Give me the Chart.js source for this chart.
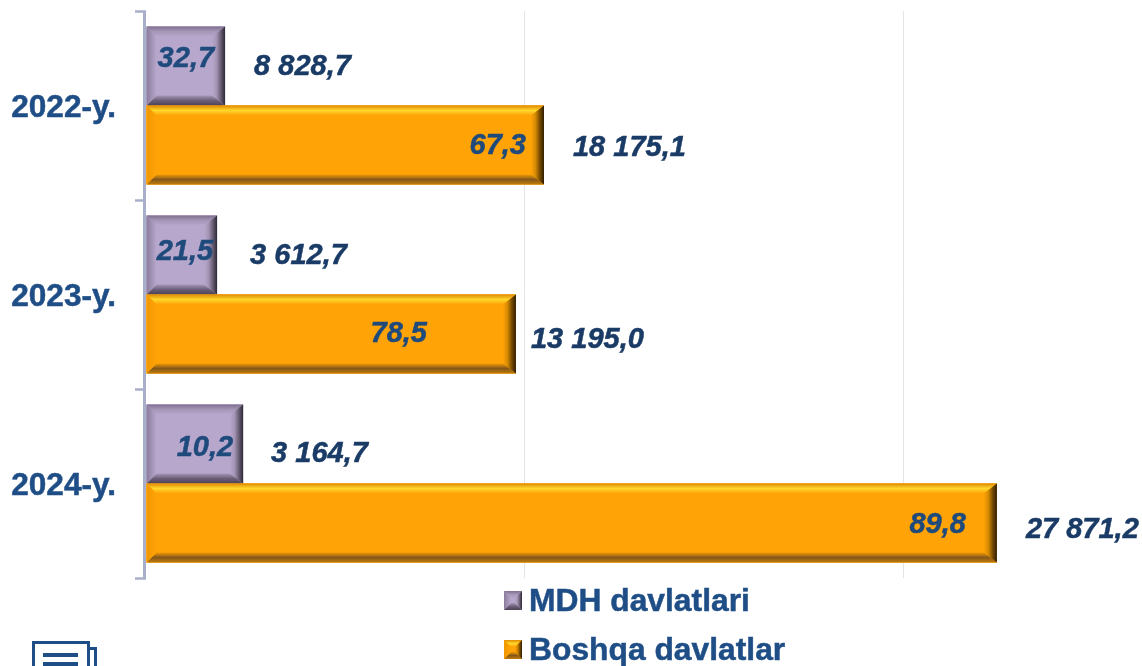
<!DOCTYPE html>
<html>
<head>
<meta charset="utf-8">
<title>Chart</title>
<script src="https://cdn.jsdelivr.net/npm/chart.js@4"></script>
<style>
  html, body { margin: 0; padding: 0; background: #fff; overflow: hidden; }
  canvas { display: block; }
</style>
</head>
<body>
<canvas id="grafico" width="1142" height="666"></canvas>
<script>
const categorias = ['2022-y.', '2023-y.', '2024-y.'];
const nombreMdh = 'MDH davlatlari';
const nombreBoshqa = 'Boshqa davlatlar';

// bar lengths as read against the gridlines (the printed labels do not follow them)
const barrasMdh = [2087, 1876, 2563];
const barrasBoshqa = [10505, 9765, 22460];

// printed labels
const porcentajesMdh = ['32,7', '21,5', '10,2'];
const porcentajesBoshqa = ['67,3', '78,5', '89,8'];
const montosMdh = ['8 828,7', '3 612,7', '3 164,7'];
const montosBoshqa = ['18 175,1', '13 195,0', '27 871,2'];

const ticksX = [0, 10000, 20000];

// label placement relative to bar end / bar centre: [dx, dy]
const ajustePorcentaje = [[[-11, -7], [-18, 1]], [[-4, -3], [-89, 0]], [[-10, 4], [-31, 2]]];
const ajusteMonto = [[[29, 1], [29, 3]], [[33, 1], [15, 6]], [[28, 10], [29, 7]]];

const azulEje = '#1f4e86';
const azulDato = '#1a3b66';
const azulInterno = '#1f4a7c';

const estiloMdh = {
  cara: '#b8a7cc',
  arriba: ['#7f7090', '#a595b6', '#b8a7cc'],
  izquierda: ['#8a7b9c', '#b8a7cc'],
  abajo: ['#4b4356', '#6b5f78', '#a596b6'],
  derecha: ['#2c2833', '#6a5f76', '#a596b6', '#b8a7cc']
};
const estiloBoshqa = {
  cara: '#ffa307',
  arriba: ['#e08a00', '#ffd62c', '#ffa307'],
  izquierda: ['#f09800', '#ffa307'],
  abajo: ['#c07c08', '#85571a', '#f09a05'],
  derecha: ['#2e1c00', '#7a4e00', '#d88c04', '#ffa307']
};

function pintarCara(ctx, puntos, x0, y0, x1, y1, colores) {
  const g = ctx.createLinearGradient(x0, y0, x1, y1);
  colores.forEach((c, i) => g.addColorStop(i / (colores.length - 1), c));
  ctx.fillStyle = g;
  ctx.beginPath();
  puntos.forEach((p, i) => i ? ctx.lineTo(p[0], p[1]) : ctx.moveTo(p[0], p[1]));
  ctx.closePath();
  ctx.fill();
}

// e = bevel width, ed = wider bevel on the right side
function bisel(ctx, l, t, r, b, e, ed, estilo) {
  ctx.fillStyle = estilo.cara;
  ctx.fillRect(l, t, r - l, b - t);
  pintarCara(ctx, [[l, t], [r, t], [r - ed, t + e], [l + e, t + e]], 0, t, 0, t + e, estilo.arriba);
  pintarCara(ctx, [[l, b], [r, b], [r - ed, b - e], [l + e, b - e]], 0, b, 0, b - e, estilo.abajo);
  pintarCara(ctx, [[l, t], [l + e, t + e], [l + e, b - e], [l, b]], l, 0, l + e, 0, estilo.izquierda);
  pintarCara(ctx, [[r, t], [r - ed, t + e], [r - ed, b - e], [r, b]], r, 0, r - ed, 0, estilo.derecha);
}

function texto(ctx, s, x, y, color) {
  ctx.fillStyle = color;
  ctx.strokeStyle = color;
  ctx.lineWidth = 0.5;
  ctx.fillText(s, x, y);
  ctx.strokeText(s, x, y);
}

const dibujoBarras = {
  id: 'dibujoBarras',
  afterDatasetsDraw(chart) {
    const ctx = chart.ctx;
    const estilos = [estiloMdh, estiloBoshqa];
    const porcentajes = [porcentajesMdh, porcentajesBoshqa];
    const montos = [montosMdh, montosBoshqa];
    ctx.save();
    ctx.font = 'italic bold 29px "Liberation Sans"';
    ctx.textBaseline = 'middle';
    chart.data.datasets.forEach((ds, d) => {
      chart.getDatasetMeta(d).data.forEach((barra, i) => {
        const t = barra.y - barra.height / 2;
        const b = barra.y + barra.height / 2;
        bisel(ctx, barra.base, t, barra.x, b, 10, 13, estilos[d]);
      });
    });
    // labels after all bars, a tall label may lie across the next bar
    chart.data.datasets.forEach((ds, d) => {
      chart.getDatasetMeta(d).data.forEach((barra, i) => {
        const ap = ajustePorcentaje[i][d];
        const am = ajusteMonto[i][d];
        ctx.textAlign = 'right';
        texto(ctx, porcentajes[d][i], barra.x + ap[0], barra.y + ap[1], azulInterno);
        ctx.textAlign = 'left';
        texto(ctx, montos[d][i], barra.x + am[0], barra.y + am[1], azulDato);
      });
    });
    ctx.restore();
  },
  afterDraw(chart) {
    const ctx = chart.ctx;
    const eje = chart.scales.y;
    ctx.save();
    // axis line sits just left of the bars
    ctx.fillStyle = '#a9afcb';
    ctx.fillRect(eje.right - 3, eje.top, 3, eje.bottom - eje.top + 1);

    // legend
    const filas = [[nombreMdh, estiloMdh, 601], [nombreBoshqa, estiloBoshqa, 650]];
    ctx.font = 'bold 31.8px "Liberation Sans"';
    ctx.textBaseline = 'middle';
    ctx.textAlign = 'left';
    filas.forEach(f => {
      bisel(ctx, 504, f[2] - 10, 522, f[2] + 9, 7, 7, f[1]);
      texto(ctx, f[0], 529, f[2] + 1, azulEje);
    });

    // document icon, cut by the bottom edge
    ctx.strokeStyle = azulEje;
    ctx.lineWidth = 3;
    ctx.strokeRect(33.5, 642.5, 55, 40);
    ctx.beginPath();
    ctx.moveTo(89, 648.5);
    ctx.lineTo(95.5, 648.5);
    ctx.lineTo(95.5, 680);
    ctx.stroke();
    ctx.fillStyle = azulEje;
    ctx.fillRect(43, 653, 35, 4);
    ctx.fillRect(43, 662, 35, 4);
    ctx.restore();
  }
};

new Chart(document.getElementById('grafico'), {
  type: 'bar',
  data: {
    labels: categorias,
    datasets: [
      { label: nombreMdh, data: barrasMdh, backgroundColor: estiloMdh.cara },
      { label: nombreBoshqa, data: barrasBoshqa, backgroundColor: estiloBoshqa.cara }
    ]
  },
  options: {
    indexAxis: 'y',
    responsive: false,
    animation: false,
    layout: { padding: { top: 11, bottom: 88, right: 11, left: 0 } },
    datasets: { bar: { barPercentage: 1, categoryPercentage: 0.836 } },
    plugins: { legend: { display: false }, tooltip: { enabled: false } },
    scales: {
      x: {
        min: 0,
        max: 26000,
        afterBuildTicks(scale) { scale.ticks = ticksX.map(v => ({ value: v })); },
        ticks: { display: false },
        border: { display: false },
        grid: {
          color: c => (c.tick && c.tick.value === 0 ? 'transparent' : '#e4e4e4'),
          lineWidth: 1,
          drawTicks: false
        }
      },
      y: {
        afterFit(scale) {
          scale.width = 146;
          scale.paddingTop = 0;
          scale.paddingBottom = 0;
        },
        border: { display: false },
        grid: {
          offset: true,
          drawOnChartArea: false,
          drawTicks: true,
          tickLength: 11,
          tickWidth: 2.5,
          tickColor: '#a9afcb'
        },
        ticks: {
          padding: 19,
          labelOffset: 3,
          color: azulEje,
          textStrokeColor: azulEje,
          textStrokeWidth: 0.5,
          font: { family: '"Liberation Sans"', size: 31.6, weight: 'bold' }
        }
      }
    }
  },
  plugins: [dibujoBarras]
});
</script>
</body>
</html>
